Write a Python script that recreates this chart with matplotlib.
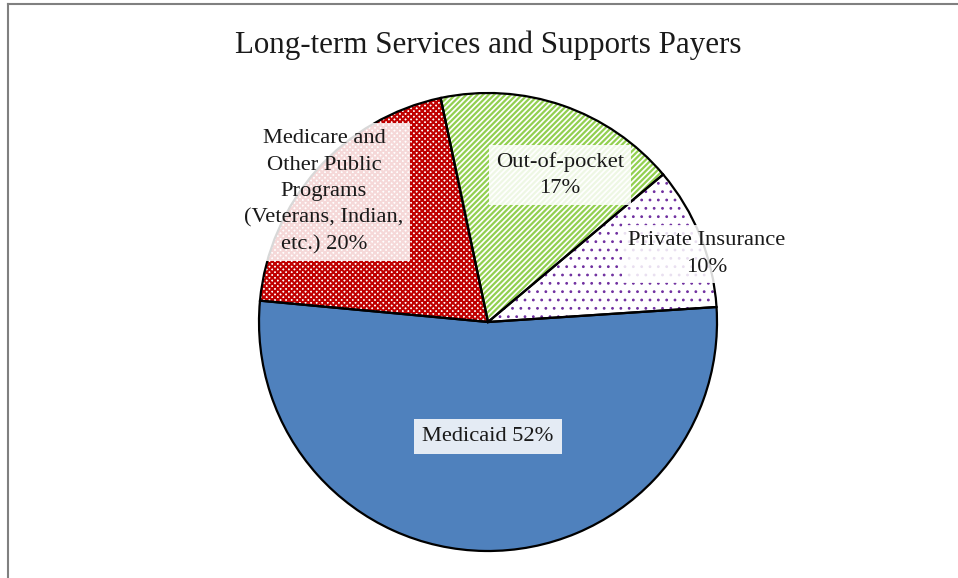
import matplotlib
matplotlib.use("Agg")
import matplotlib.pyplot as plt
from matplotlib.lines import Line2D

plt.rcParams["font.family"] = ["Liberation Serif", "DejaVu Serif"]
plt.rcParams["hatch.linewidth"] = 1.5

# Payer shares (percent), drawn clockwise from the 3 o'clock side
payers = ["Medicaid",
          "Medicare and\nOther Public\nPrograms\n(Veterans, Indian,\netc.)",
          "Out-of-pocket",
          "Private Insurance"]
shares = [52, 20, 17, 10]
label_text = ["Medicaid 52%",
              "Medicare and\nOther Public\nPrograms\n(Veterans, Indian,\netc.) 20%",
              "Out-of-pocket\n17%",
              "Private Insurance\n10%"]
label_pos = [(0.0, -0.50), (-0.716, 0.568), (0.314, 0.642), (0.956, 0.297)]

face_colors = ["#4F81BD", "white", "white", "white"]
hatch_colors = ["#4F81BD", "#C00000", "#92D050", "#7030A0"]
hatches = [None, "xxxxxx", "//////", ".."]
hatch_widths = [1.0, 1.5, 1.6, 0.8]

W, H = 958, 578
fig = plt.figure(figsize=(W / 100, H / 100), dpi=100)

cx, cy, r = 488, 322, 229
ax = fig.add_axes([(cx - r) / W, (H - cy - r) / H, 2 * r / W, 2 * r / H])

# Filled / patterned wedges
wedges, _ = ax.pie(shares, startangle=3.75, counterclock=False, radius=1,
                   colors=face_colors, wedgeprops=dict(linewidth=0))
for w, hc, ht, hw in zip(wedges, hatch_colors, hatches, hatch_widths):
    w.set_edgecolor(hc)
    w.set_linewidth(0)
    w.set_clip_on(False)
    if ht:
        w.set_hatch(ht)
        if hasattr(w, "set_hatch_linewidth"):
            w.set_hatch_linewidth(hw)

# Black outlines on top
outlines, _ = ax.pie(shares, startangle=3.75, counterclock=False, radius=1,
                     wedgeprops=dict(facecolor="none", edgecolor="black",
                                     linewidth=1.6))
for w in outlines:
    w.set_clip_on(False)

ax.set_xlim(-1, 1)
ax.set_ylim(-1, 1)
ax.set_aspect("equal")
ax.axis("off")

# Data labels with translucent white boxes
pads = [0.35, 0.3, 0.3, 0.3]
for (x, y), txt, pad in zip(label_pos, label_text, pads):
    ax.text(x, y, txt, ha="center", va="center", fontsize=16.2,
            color="#1a1a1a", linespacing=1.52, zorder=5,
            bbox=dict(boxstyle=f"square,pad={pad}", facecolor="white",
                      alpha=0.85, edgecolor="none"))

fig.text(cx / W, 1 - 45 / H, "Long-term Services and Supports Payers",
         ha="center", va="center", fontsize=22.3, color="#1a1a1a")

# Chart frame (top and left edges)
fig.add_artist(Line2D([8 / W, 8 / W], [0, 1 - 4 / H], transform=fig.transFigure,
                      color="#808080", linewidth=1.5))
fig.add_artist(Line2D([8 / W, 1], [1 - 4 / H, 1 - 4 / H], transform=fig.transFigure,
                      color="#808080", linewidth=1.5))

fig.savefig("out.png", dpi=100)
